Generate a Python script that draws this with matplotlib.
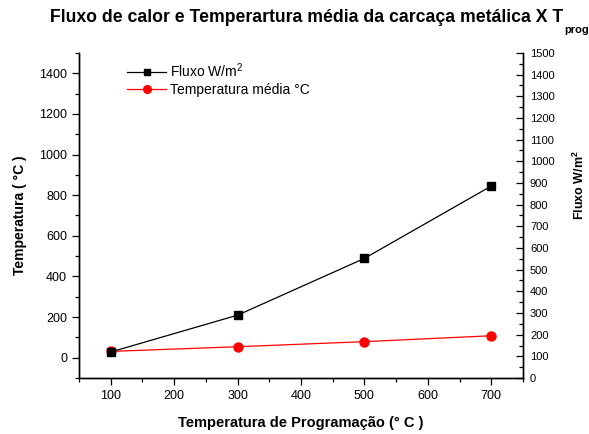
import matplotlib
matplotlib.use('Agg')
import matplotlib.pyplot as plt
from matplotlib.ticker import MultipleLocator

plt.rcParams['font.family'] = ['Liberation Sans', 'DejaVu Sans']
plt.rcParams['mathtext.fontset'] = 'custom'
plt.rcParams['mathtext.rm'] = 'Liberation Sans'
plt.rcParams['mathtext.bf'] = 'Liberation Sans:bold'

# dados
t_prog = [100, 300, 500, 700]
fluxo = [120, 290, 552, 886]          # W/m2 (eixo direito)
temp_media = [31, 54, 79, 108]        # °C (eixo esquerdo)

W, H = 589, 434
fig = plt.figure(figsize=(W / 100, H / 100), dpi=100, facecolor='white')
ax = fig.add_axes([0.134, 0.129, 0.754, 0.749])
ax2 = ax.twinx()

l1, = ax2.plot(t_prog, fluxo, color='black', lw=0.9, marker='s', ms=5.5,
               label='Fluxo W/m$^2$')
l2, = ax.plot(t_prog, temp_media, color='red', lw=0.9, marker='o', ms=6.5,
              label='Temperatura média °C')

ax.set_xlim(50, 750)
ax.set_ylim(-100, 1500)
ax2.set_ylim(0, 1500)

ax.xaxis.set_major_locator(MultipleLocator(100))
ax.xaxis.set_minor_locator(MultipleLocator(50))
ax.yaxis.set_major_locator(MultipleLocator(200))
ax.yaxis.set_minor_locator(MultipleLocator(100))
ax2.yaxis.set_major_locator(MultipleLocator(100))
ax2.yaxis.set_minor_locator(MultipleLocator(50))

for a in (ax, ax2):
    a.spines['top'].set_visible(False)
    for s in a.spines.values():
        s.set_linewidth(1.0)

ax.tick_params(axis='both', which='major', direction='out', length=5, width=0.9, labelsize=9)
ax.tick_params(axis='both', which='minor', direction='out', length=3, width=0.9)
ax2.tick_params(axis='y', which='major', direction='in', length=5, width=0.9, labelsize=8, pad=5)
ax2.tick_params(axis='y', which='minor', direction='in', length=3, width=0.9)

ax.set_xlabel('Temperatura de Programação (° C )', fontsize=10.5, fontweight='bold', labelpad=10)
ax.set_ylabel('Temperatura ( °C )', fontsize=10, fontweight='bold', labelpad=9)

# rótulo do eixo direito (encostado na borda, como no original)
fig.text(587 / W, 1 - 185 / H, 'Fluxo W/m$^\\mathbf{2}$', rotation=90,
         ha='right', va='center', fontsize=9, fontweight='bold')

# título com subscrito
t = fig.text(563 / W, 1 - 17 / H,
             'Fluxo de calor e Temperartura média da carcaça metálica X T',
             ha='right', va='center', fontsize=12.7, fontweight='bold')
fig.canvas.draw()
bb = t.get_window_extent()
fig.text((bb.x1 + 1) / W, 1 - 30 / H, 'prog', ha='left', va='center',
         fontsize=8, fontweight='bold')

leg = ax.legend(handles=[l1, l2], loc='upper left', bbox_to_anchor=(0.09, 1.0),
                frameon=False, fontsize=10, handlelength=2.8, handletextpad=0.3,
                labelspacing=0.25, borderaxespad=0.2, markerscale=0.85)

plt.savefig('out.png', dpi=100, facecolor='white')
